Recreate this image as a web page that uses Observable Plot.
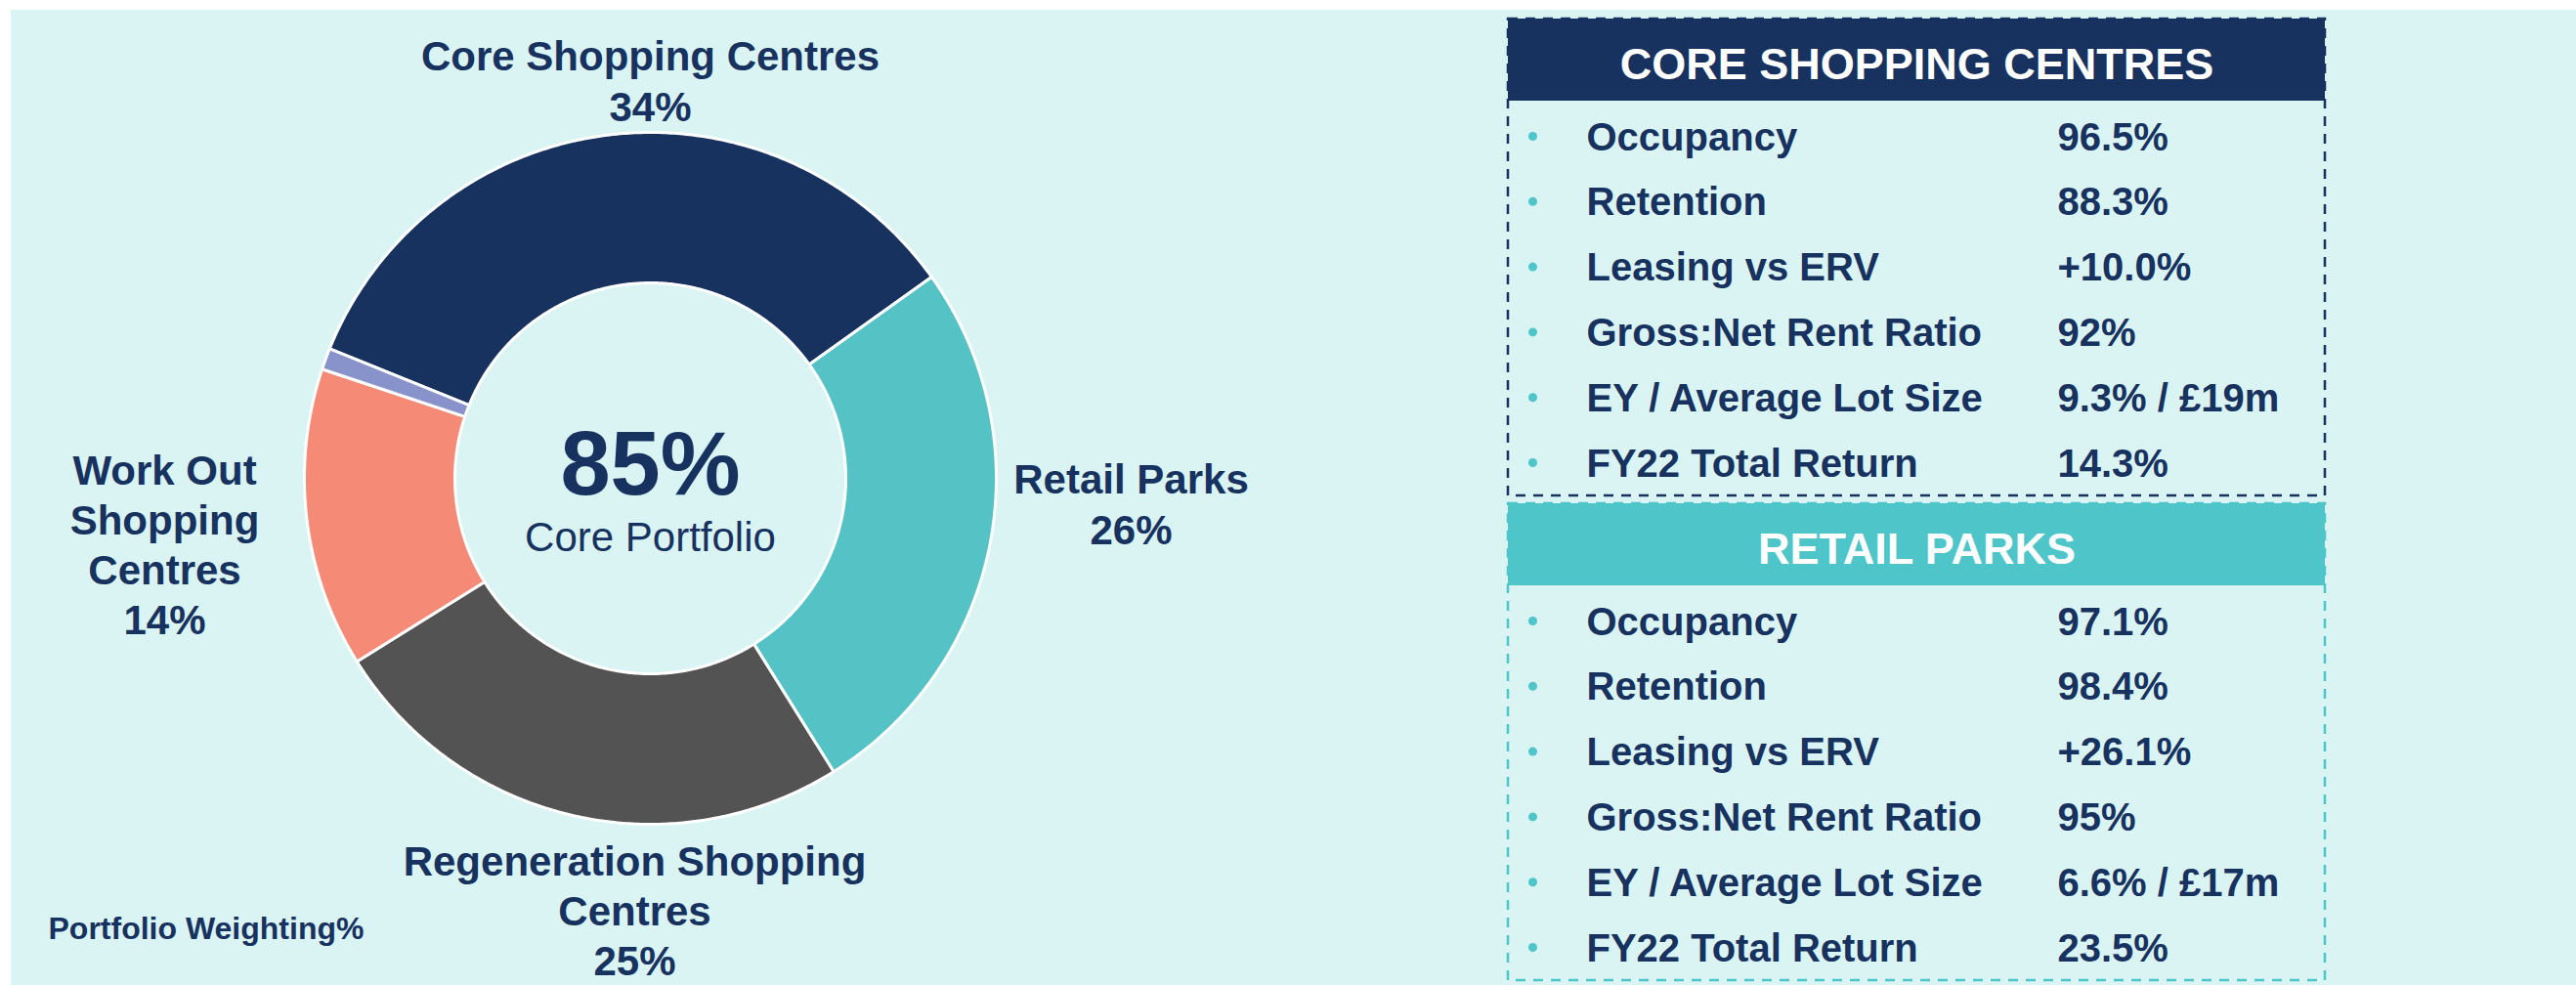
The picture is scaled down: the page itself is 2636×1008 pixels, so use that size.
<!DOCTYPE html>
<html><head><meta charset="utf-8">
<script src="https://cdn.jsdelivr.net/npm/d3@7"></script>
<script src="https://cdn.jsdelivr.net/npm/@observablehq/plot@0.6"></script>
<style>
html,body{margin:0;padding:0;background:#fff;}
#wrap{position:relative;width:2636px;height:1008px;overflow:hidden;}
#bg{position:absolute;left:11px;top:10px;right:0;bottom:0;background:#daf4f3;}
#chart{position:absolute;left:0;top:0;}
</style></head><body>
<div id="wrap"><div id="bg"></div><div id="chart"></div></div>
<script>
// ---- data ----
const segments = ["Core Shopping Centres", "Retail Parks", "Regeneration Shopping Centres", "Work Out Shopping Centres", "Other"];
const weights = [34, 26, 25, 14, 1];
const segmentColors = ["#17325f", "#55c2c5", "#535353", "#f58b77", "#8893cb"];
const labelLines = [["Core Shopping Centres"], ["Retail Parks"], ["Regeneration Shopping", "Centres"], ["Work Out", "Shopping", "Centres"], null];
const centreValue = "85%";
const centreLabel = "Core Portfolio";
const footnote = "Portfolio Weighting%";
const metricNames = ["Occupancy", "Retention", "Leasing vs ERV", "Gross:Net Rent Ratio", "EY / Average Lot Size", "FY22 Total Return"];
const coreValues = ["96.5%", "88.3%", "+10.0%", "92%", "9.3% / £19m", "14.3%"];
const retailValues = ["97.1%", "98.4%", "+26.1%", "95%", "6.6% / £17m", "23.5%"];
const panelTitles = ["CORE SHOPPING CENTRES", "RETAIL PARKS"];
const panelColors = ["#17325f", "#4ec5c9"];

// ---- layout ----
const W = 2636, H = 1008;
const navy = "#17325f", teal = "#4ec5c9";
const font = "Liberation Sans, Arial, Helvetica, sans-serif";
const donut = {cx: 665, cy: 489, rOuter: 354, rInner: 200, start: -68};
const labelAnchors = [{x: 665, y: 123}, {x: 1157, y: 556}, {x: 649, y: 997}, {x: 168, y: 648}, null];
const lineH = [52, 52, 51, 51, 52];
const panel = {x1: 1543, x2: 2379, tops: [19, 515], height: 488, header: 84, firstRow: 50, rowStep: 66.8, bulletX: 1568, nameX: 1623, valueX: 2105};

// ---- donut geometry from pie ----
const slices = segments.map((s, i) => ({key: s, w: weights[i], i}));
const a0 = donut.start * Math.PI / 180;
const arcs = d3.pie().sort(null).value(d => d.w).startAngle(a0).endAngle(a0 + 2 * Math.PI)(slices);
const pts = [];
for (const a of arcs) {
  const n = Math.max(4, Math.ceil((a.endAngle - a.startAngle) / (Math.PI / 360)));
  for (let k = 0; k <= n; k++) {
    const t = a.startAngle + (a.endAngle - a.startAngle) * k / n;
    pts.push({key: a.data.key, x: donut.cx + donut.rOuter * Math.sin(t), y: donut.cy - donut.rOuter * Math.cos(t)});
  }
  for (let k = n; k >= 0; k--) {
    const t = a.startAngle + (a.endAngle - a.startAngle) * k / n;
    pts.push({key: a.data.key, x: donut.cx + donut.rInner * Math.sin(t), y: donut.cy - donut.rInner * Math.cos(t)});
  }
}

const labelMarks = [];
slices.forEach((s, i) => {
  if (!labelLines[i]) return;
  const lbl = {text: labelLines[i].concat([weights[i] + "%"]).join("\n"), x: labelAnchors[i].x, y: labelAnchors[i].y};
  labelMarks.push(Plot.text([lbl], {x: "x", y: "y", text: "text", fontSize: 42, fontWeight: "bold", fill: navy, lineAnchor: "bottom", lineHeight: lineH[i] / 42, fontFamily: font}));
});

// ---- panels ----
const panels = panelTitles.map((t, p) => ({title: t, color: panelColors[p], top: panel.tops[p], values: p === 0 ? coreValues : retailValues}));
const rows = [];
panels.forEach(pn => {
  metricNames.forEach((m, i) => {
    rows.push({name: m, value: pn.values[i], y: pn.top + panel.header + panel.firstRow + i * panel.rowStep});
  });
});

const chart = Plot.plot({
  width: W, height: H,
  margin: 0,
  x: {type: "identity", axis: null},
  y: {type: "identity", axis: null},
  color: {type: "ordinal", domain: segments, range: segmentColors},
  style: {background: "none", fontFamily: font},
  marks: [
    // donut slices
    Plot.line(pts, {x: "x", y: "y", z: "key", fill: "key", stroke: "white", strokeWidth: 3, curve: "linear-closed", strokeLinejoin: "round"}),
    // centre text
    Plot.text([centreValue], {x: () => donut.cx, y: () => donut.cy + 16, text: d => d, fontSize: 92, fontWeight: "bold", fill: navy, lineAnchor: "bottom", fontFamily: font}),
    Plot.text([centreLabel], {x: () => donut.cx, y: () => donut.cy + 74, text: d => d, fontSize: 42, fill: navy, lineAnchor: "bottom", fontFamily: font}),
    // slice labels
    ...labelMarks,
    Plot.text([footnote], {x: () => 49, y: () => 960, text: d => d, fontSize: 32, fontWeight: "bold", fill: navy, textAnchor: "start", lineAnchor: "bottom", fontFamily: font}),
    // panel headers
    Plot.rect(panels, {x1: () => panel.x1, x2: () => panel.x2, y1: "top", y2: d => d.top + panel.header, fill: "color"}),
    Plot.rect(panels, {x1: () => panel.x1, x2: () => panel.x2, y1: "top", y2: d => d.top + panel.height, fill: "none", stroke: "color", strokeWidth: 2.5, strokeDasharray: "10,8"}),
    Plot.text(panels, {x: () => (panel.x1 + panel.x2) / 2, y: d => d.top + 61, text: "title", fontSize: 45, fontWeight: "bold", fill: "white", lineAnchor: "bottom", fontFamily: font}),
    // rows
    Plot.dot(rows, {x: () => panel.bulletX, y: d => d.y - 14, r: 4.5, fill: teal, stroke: "none"}),
    Plot.text(rows, {x: () => panel.nameX, y: "y", text: "name", fontSize: 40, fontWeight: "bold", fill: navy, textAnchor: "start", lineAnchor: "bottom", fontFamily: font}),
    Plot.text(rows, {x: () => panel.valueX, y: "y", text: "value", fontSize: 40, fontWeight: "bold", fill: navy, textAnchor: "start", lineAnchor: "bottom", fontFamily: font})
  ]
});
document.getElementById("chart").appendChild(chart);
</script>
</body></html>
